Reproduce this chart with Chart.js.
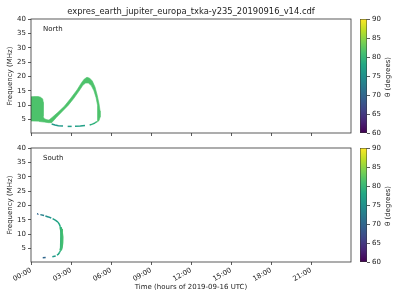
<!DOCTYPE html>
<html><head><meta charset="utf-8">
<script src="https://cdn.jsdelivr.net/npm/chart.js@4/dist/chart.umd.min.js"></script>
<style>
html,body{margin:0;padding:0;background:#fff;width:400px;height:300px;overflow:hidden}
#wrap{position:relative;width:400px;height:300px;background:#fff}
canvas{position:absolute}
</style></head><body>
<div id="wrap">
<canvas id="north" width="360" height="145" style="left:0px;top:0px"></canvas>
<canvas id="cbN" width="45" height="145" style="left:355px;top:0px"></canvas>
<canvas id="south" width="360" height="170" style="left:0px;top:130px"></canvas>
<canvas id="cbS" width="45" height="145" style="left:355px;top:130px"></canvas>
</div>
<script>
// ---------------- data ----------------
const TITLE = 'expres_earth_jupiter_europa_txka-y235_20190916_v14.cdf';
const PANEL_LABELS = ['North', 'South'];
const X_TITLE = 'Time (hours of 2019-09-16 UTC)';
const Y_TITLE = 'Frequency (MHz)';
const CB_TITLE = 'θ (degrees)';
const X_TICKS = [0, 3, 6, 9, 12, 15, 18, 21];
const X_TICK_LABELS = ['00:00', '03:00', '06:00', '09:00', '12:00', '15:00', '18:00', '21:00'];
const Y_TICKS = [5, 10, 15, 20, 25, 30, 35, 40];
const CB_TICKS = [60, 65, 70, 75, 80, 85, 90];

// North: main emission region outline (time in hours, frequency in MHz)
const NORTH_BODY_T = [0, 0, 0.2, 0.55, 0.75, 0.88, 0.92, 0.92, 0.9, 1.0, 1.2, 1.35,
  1.6, 2.0, 2.5, 2.95, 3.45, 3.8, 4.0, 4.2, 4.4, 4.6, 4.8, 4.97, 5.1, 5.18, 5.18, 5.1, 4.98,
  4.97, 5.02, 4.98, 4.88, 4.72, 4.52, 4.3, 4.1, 3.9, 3.6, 3.2, 2.8, 2.3, 1.9, 1.65, 1.55,
  1.3, 1.0, 0.6];
const NORTH_BODY_F = [4.4, 12.9, 13.0, 13.0, 12.7, 12.1, 11.0, 7.0, 6.0, 5.3, 4.9, 4.8,
  5.8, 7.4, 9.6, 12.2, 15.3, 17.9, 19.1, 19.7, 19.4, 18.4, 16.3, 13.4, 10.5, 8.0, 5.8, 4.6, 4.2,
  5.2, 7.5, 10.0, 12.6, 15.0, 16.8, 17.7, 17.7, 17.0, 14.9, 12.3, 10.0, 7.6, 5.7, 4.4, 3.9,
  3.9, 4.1, 4.3];
const NORTH_BODY_THETA = 81.5;

// North: lower arc (broken), null = no emission
const NORTH_ARC_T = [1.55, 1.8, 2.05, 2.4, 2.5, 2.75, 3.05, 3.15, 3.3, 3.7, 4.05, 4.2, 4.4, 4.6, 4.8, 4.95];
const NORTH_ARC_F = [3.4, 3.1, 2.85, 2.7, null, 2.6, 2.6, null, 2.65, 2.7, 2.9, null, 3.1, 3.4, 3.8, 4.3];
const NORTH_ARC_THETA = [76, 76, 76, 76, 76, 76.5, 76.5, 77, 77, 77, 77, 78, 79, 79, 80, 80];

// South: broken arc
const SOUTH_ARC_T = [0.45, 0.52, 0.6, 0.7, 0.98, 1.03, 1.08, 1.3, 1.52, 1.57, 1.62, 1.85, 2.02, 2.13, 2.2, 2.25,
  2.22, 2.15, 2.05, 1.95, 1.9, 1.85, 1.6, 1.3, 1.1, 0.88];
const SOUTH_ARC_F = [17.1, 17.05, null, 16.8, 16.5, null, 16.3, 16.0, 15.6, null, 15.4, 14.8, 14.2, 13.4, 12.6, 11.8,
  4.4, 3.7, 3.0, 2.7, null, 2.4, 2.15, null, 1.85, 1.8];
const SOUTH_ARC_THETA = [70, 70, 70, 73, 73, 74, 75, 75, 75, 76, 77, 77, 78, 78, 79, 80,
  79, 78, 78, 77, 76, 76, 76, 71, 70, 70];
// South: strong core
const SOUTH_CORE_T = [2.22, 2.25, 2.3, 2.34, 2.33, 2.29, 2.22];
const SOUTH_CORE_F = [12.4, 11.8, 10.5, 9.0, 7.0, 5.4, 4.4];
const SOUTH_CORE_THETA = 81;

// ---------------- helpers ----------------
const VIRIDIS = ['#440154', '#482475', '#414487', '#355f8d', '#2a788e', '#21918c', '#22a884', '#44bf70', '#7ad151', '#bddf26', '#fde725'];
const FONT = "'DejaVu Sans'";
const TXT = '#222';
const AX = '#333';
Chart.defaults.font.family = FONT;

function hexRgb(h) { return [1, 3, 5].map(i => parseInt(h.substr(i, 2), 16)); }
function viridis(theta) {
  const u = Math.min(1, Math.max(0, (theta - 60) / 30)) * 10;
  const i = Math.min(9, Math.floor(u)); const f = u - i;
  const a = hexRgb(VIRIDIS[i]), b = hexRgb(VIRIDIS[i + 1]);
  const c = a.map((v, k) => Math.round(v + (b[k] - v) * f));
  return `rgb(${c[0]},${c[1]},${c[2]})`;
}
const pts = (T, F) => T.map((t, i) => ({x: t, y: F[i] === null ? null : F[i]}));

const framePlugin = {
  id: 'frame',
  afterDraw(chart) {
    const {ctx, chartArea: a} = chart;
    ctx.save(); ctx.strokeStyle = AX; ctx.lineWidth = 0.8;
    ctx.strokeRect(a.left, a.top, a.right - a.left, a.bottom - a.top);
    ctx.restore();
  }
};
const annotPlugin = {
  id: 'annot',
  afterDraw(chart, args, opts) {
    const {ctx, chartArea: a} = chart;
    ctx.save(); ctx.fillStyle = TXT; ctx.textBaseline = 'middle';
    ctx.font = `7px ${FONT}`; ctx.textAlign = 'left';
    ctx.fillText(opts.label, a.left + 12, a.top + 10);
    if (opts.title) {
      ctx.font = `8.4px ${FONT}`; ctx.textAlign = 'center';
      ctx.fillText(opts.title, (a.left + a.right) / 2, 11.5);
    }
    ctx.restore();
  }
};
const cbLabelPlugin = {
  id: 'cblabel',
  afterDraw(chart) {
    const {ctx, chartArea: a} = chart;
    ctx.save(); ctx.fillStyle = TXT; ctx.font = `7px ${FONT}`;
    ctx.textAlign = 'center'; ctx.textBaseline = 'middle';
    ctx.translate(33, (a.top + a.bottom) / 2 + 1); ctx.rotate(-Math.PI / 2);
    ctx.fillText(CB_TITLE, 0, 0);
    ctx.restore();
  }
};

function lineSet(T, F, thetas, width) {
  return {
    data: pts(T, F), showLine: true, pointRadius: 0, borderWidth: width, spanGaps: false,
    borderColor: viridis(thetas[0]),
    segment: {borderColor: c => viridis(thetas[c.p0DataIndex])}
  };
}

function mainChart(id, padTop, xHeight, showX, datasets, label, title) {
  return new Chart(document.getElementById(id), {
    type: 'scatter',
    data: {datasets},
    options: {
      responsive: false, animation: false, devicePixelRatio: 1,
      layout: {padding: {top: padTop, right: 9, left: 0, bottom: 0}},
      plugins: {legend: {display: false}, tooltip: {enabled: false}, annot: {label, title}},
      scales: {
        x: {
          type: 'linear', min: 0, max: 24,
          afterBuildTicks: s => { s.ticks = X_TICKS.map(v => ({value: v})); },
          afterFit: s => { s.height = xHeight; },
          grid: {display: true, drawOnChartArea: false, drawTicks: true, tickLength: 3, color: AX, lineWidth: 0.8},
          border: {display: false},
          ticks: {display: showX, autoSkip: false, maxRotation: 30, minRotation: 30, padding: 1,
            font: {size: 7}, color: TXT, callback: (v, i) => X_TICK_LABELS[i]},
          title: {display: showX, text: X_TITLE, font: {size: 7}, color: TXT, padding: {top: 0, bottom: 8.8}}
        },
        y: {
          type: 'linear', min: 0.3, max: 40,
          afterBuildTicks: s => { s.ticks = Y_TICKS.map(v => ({value: v})); },
          afterFit: s => { s.width = 31; },
          grid: {display: true, drawOnChartArea: false, drawTicks: true, tickLength: 3, color: AX, lineWidth: 0.8},
          border: {display: false},
          ticks: {font: {size: 7}, color: TXT, padding: 2},
          title: {display: true, text: Y_TITLE, font: {size: 7}, color: TXT, padding: {top: 5.8, bottom: 0}}
        }
      }
    },
    plugins: [framePlugin, annotPlugin]
  });
}

function colorbar(id, padTop, padBottom) {
  return new Chart(document.getElementById(id), {
    type: 'bar',
    data: {labels: [''], datasets: [{
      data: [[CB_TICKS[0], CB_TICKS[CB_TICKS.length - 1]]],
      backgroundColor: c => {
        const a = c.chart.chartArea; if (!a) return VIRIDIS[5];
        const g = c.chart.ctx.createLinearGradient(0, a.bottom, 0, a.top);
        VIRIDIS.forEach((col, i) => g.addColorStop(i / 10, col));
        return g;
      },
      borderColor: AX, borderWidth: 0.8, borderSkipped: false,
      barPercentage: 1, categoryPercentage: 1
    }]},
    options: {
      responsive: false, animation: false, devicePixelRatio: 1,
      layout: {padding: {top: padTop, bottom: padBottom, left: 5, right: 0}},
      plugins: {legend: {display: false}, tooltip: {enabled: false}},
      scales: {
        x: {display: false},
        y: {
          position: 'right', min: 60, max: 90,
          afterBuildTicks: s => { s.ticks = CB_TICKS.map(v => ({value: v})); },
          afterFit: s => { s.width = 33; },
          grid: {display: true, drawOnChartArea: false, tickLength: 3, color: AX, lineWidth: 0.8},
          border: {display: false},
          ticks: {font: {size: 7}, color: TXT, padding: 2}
        }
      }
    },
    plugins: [cbLabelPlugin]
  });
}

const northBody = {
  data: pts(NORTH_BODY_T, NORTH_BODY_F), showLine: true, pointRadius: 0,
  borderWidth: 0.6, borderColor: viridis(NORTH_BODY_THETA),
  backgroundColor: viridis(NORTH_BODY_THETA), fill: 'shape'
};
mainChart('north', 19, 12, false,
  [northBody, lineSet(NORTH_ARC_T, NORTH_ARC_F, NORTH_ARC_THETA, 1.5)],
  PANEL_LABELS[0], TITLE);
mainChart('south', 18, 38, true,
  [lineSet(SOUTH_ARC_T, SOUTH_ARC_F, SOUTH_ARC_THETA, 1.5),
   {data: pts(SOUTH_CORE_T, SOUTH_CORE_F), showLine: true, pointRadius: 0, borderWidth: 2.6,
    borderColor: viridis(SOUTH_CORE_THETA)}],
  PANEL_LABELS[1], null);
colorbar('cbN', 19, 12);
colorbar('cbS', 18, 13);
</script>
</body></html>
